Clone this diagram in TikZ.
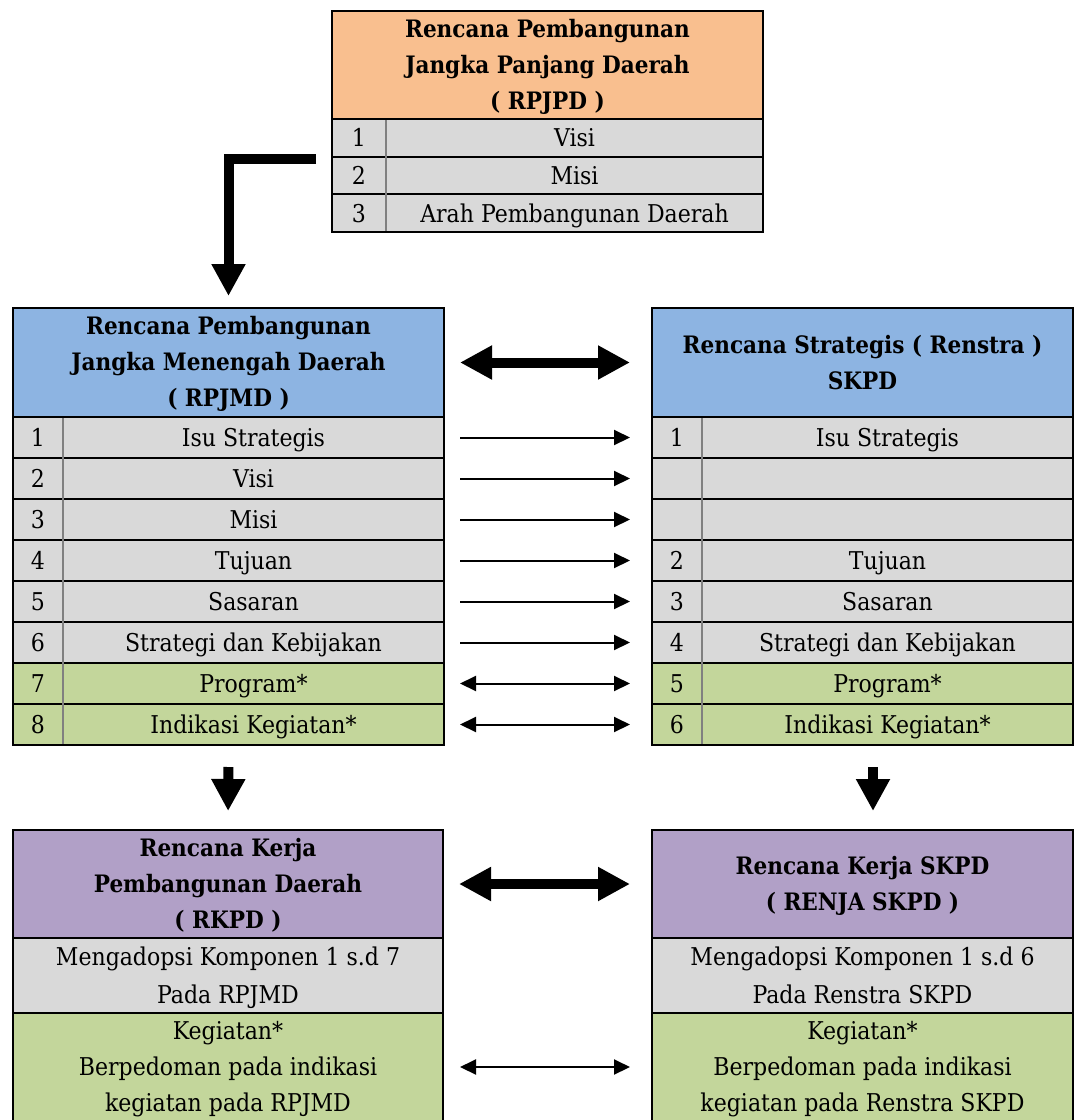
\documentclass[tikz,border=0pt]{standalone}
\usepackage{fontspec}
\setmainfont{DejaVu Serif Condensed}
\usetikzlibrary{arrows.meta}
\definecolor{hdrorange}{HTML}{F9BF8F}
\definecolor{hdrblue}{HTML}{8DB4E2}
\definecolor{cellgray}{HTML}{D9D9D9}
\definecolor{cellgreen}{HTML}{C3D69B}
\definecolor{hdrpurple}{HTML}{B1A0C7}
\definecolor{divgray}{HTML}{808080}
% #1 name prefix, #2 style, #3 x, #4 y of first line centre, #5 line spacing, #6 lines
\newcommand\textlines[6]{%
  \foreach \tl [count=\ii] in {#6}{%
    \pgfmathsetmacro{\yy}{#4+(\ii-1)*#5+8.9}%
    \node[#2, anchor=base] (#1-\ii) at (#3,\yy) {\tl};%
  }%
}
\begin{document}
\begin{tikzpicture}[x=1pt,y=-1pt,
  cellbox/.style={draw=black, line width=2pt, inner sep=0pt, anchor=center},
  hdrtext/.style={font=\fontsize{24}{36}\selectfont\bfseries, inner sep=0pt},
  celltext/.style={font=\fontsize{24.5}{37}\selectfont, inner sep=0pt},
  divider/.style={draw=divgray, line width=1.5pt},
  bigarrow/.style={line width=10pt, -{Triangle[length=32pt,width=32pt]}},
  bigdouble/.style={line width=10pt, {Triangle[length=32pt,width=32pt]}-{Triangle[length=32pt,width=32pt]}},
  thinarrow/.style={line width=2pt, -{Triangle[length=16pt,width=15pt]}},
  thindouble/.style={line width=2pt, {Triangle[length=16pt,width=15pt]}-{Triangle[length=16pt,width=15pt]}},
  gap/.style={shorten <=15pt, shorten >=21pt}]
\useasboundingbox (0,0) rectangle (1074,1120);
\clip (0,0) rectangle (1074,1120);

% ---------- RPJPD (top) ----------
\node[cellbox, fill=hdrorange, minimum width=431pt, minimum height=108pt] (TH) at (547.5,65) {};
\textlines{THt}{hdrtext}{547.5}{29}{36}{Rencana Pembangunan,Jangka Panjang Daerah,( RPJPD )}
\node[cellbox, fill=cellgray, minimum width=431pt, minimum height=37.67pt] (T1) at (547.5,137.83) {};
\node[cellbox, fill=cellgray, minimum width=431pt, minimum height=37.67pt] (T2) at (547.5,175.5) {};
\node[cellbox, fill=cellgray, minimum width=431pt, minimum height=37.67pt] (T3) at (547.5,213.17) {};
\draw[divider] (386,120) -- (386,231);
\textlines{T1n}{celltext}{359}{137.83}{0}{1}
\textlines{T1t}{celltext}{574.5}{137.83}{0}{Visi}
\textlines{T2n}{celltext}{359}{175.5}{0}{2}
\textlines{T2t}{celltext}{574.5}{175.5}{0}{Misi}
\textlines{T3n}{celltext}{359}{213.17}{0}{3}
\textlines{T3t}{celltext}{574.5}{213.17}{0}{Arah Pembangunan Daerah}

% ---------- RPJMD (middle left) ----------
\node[cellbox, fill=hdrblue, minimum width=431pt, minimum height=109pt] (LH) at (228.5,362.5) {};
\textlines{LHt}{hdrtext}{228.5}{326}{36}{Rencana Pembangunan,Jangka Menengah Daerah,( RPJMD )}
% ---------- Renstra (middle right) ----------
\node[cellbox, fill=hdrblue, minimum width=421pt, minimum height=109pt] (RH) at (862.5,362.5) {};
\textlines{RHt}{hdrtext}{862.5}{345}{36}{Rencana Strategis ( Renstra ),SKPD}

\foreach \k/\ln/\lt/\rn/\rt/\col in {
  1/1/Isu Strategis/1/Isu Strategis/cellgray,
  2/2/Visi//{}/cellgray,
  3/3/Misi//{}/cellgray,
  4/4/Tujuan/2/Tujuan/cellgray,
  5/5/Sasaran/3/Sasaran/cellgray,
  6/6/Strategi dan Kebijakan/4/Strategi dan Kebijakan/cellgray,
  7/7/Program*/5/Program*/cellgreen,
  8/8/Indikasi Kegiatan*/6/Indikasi Kegiatan*/cellgreen}{
  \pgfmathsetmacro{\cy}{396.5+41*\k}
  \pgfmathsetmacro{\by}{\cy+8.9}
  \node[cellbox, fill=\col, minimum width=431pt, minimum height=41pt] (L\k) at (228.5,\cy) {};
  \node[cellbox, fill=\col, minimum width=421pt, minimum height=41pt] (R\k) at (862.5,\cy) {};
  \node[celltext, anchor=base] (L\k n) at (38,\by) {\ln};
  \node[celltext, anchor=base] (L\k t) at (253.5,\by) {\lt};
  \node[celltext, anchor=base] (R\k n) at (677,\by) {\rn};
  \node[celltext, anchor=base] (R\k t) at (887.5,\by) {\rt};
}
\draw[divider] (63,418) -- (63,744);
\draw[divider] (702,418) -- (702,744);

% ---------- RKPD (bottom left) ----------
\node[cellbox, fill=hdrpurple, minimum width=430pt, minimum height=108pt] (BLH) at (228,884) {};
\textlines{BLHt}{hdrtext}{228}{848}{36}{Rencana Kerja,Pembangunan Daerah,( RKPD )}
\node[cellbox, fill=cellgray, minimum width=430pt, minimum height=75pt] (BLG) at (228,975.5) {};
\textlines{BLGt}{celltext}{228}{956.5}{38}{Mengadopsi Komponen 1 s.d 7,Pada RPJMD}
\node[cellbox, fill=cellgreen, minimum width=430pt, minimum height=108pt] (BLK) at (228,1067) {};
\textlines{BLKt}{celltext}{228}{1031}{36}{Kegiatan*,Berpedoman pada indikasi,kegiatan pada RPJMD}

% ---------- RENJA SKPD (bottom right) ----------
\node[cellbox, fill=hdrpurple, minimum width=421pt, minimum height=108pt] (BRH) at (862.5,884) {};
\textlines{BRHt}{hdrtext}{862.5}{866}{36}{Rencana Kerja SKPD,( RENJA SKPD )}
\node[cellbox, fill=cellgray, minimum width=421pt, minimum height=75pt] (BRG) at (862.5,975.5) {};
\textlines{BRGt}{celltext}{862.5}{956.5}{38}{Mengadopsi Komponen 1 s.d 6,Pada Renstra SKPD}
\node[cellbox, fill=cellgreen, minimum width=421pt, minimum height=108pt] (BRK) at (862.5,1067) {};
\textlines{BRKt}{celltext}{862.5}{1031}{36}{Kegiatan*,Berpedoman pada indikasi,kegiatan pada Renstra SKPD}

% ---------- connectors ----------
\coordinate (lstart) at ([xshift=-15pt,yshift=-1.5pt]T1.south west);
\draw[bigarrow, line join=miter, shorten >=11pt] (lstart) -| (LH.north);
\draw[bigdouble, gap] (LH.east) -- (RH.west);
\foreach \k in {1,...,6}{
  \draw[thinarrow, gap] (L\k.east) -- (R\k.west);
}
\foreach \k in {7,8}{
  \draw[thindouble, gap] (L\k.east) -- (R\k.west);
}
\draw[bigarrow, shorten <=21pt, shorten >=18pt] (L8.south) -- (BLH.north);
\draw[bigarrow, shorten <=21pt, shorten >=18pt] ([xshift=10.5pt]R8.south) -- ([xshift=10.5pt]BRH.north);
\draw[bigdouble, gap] (BLH.east) -- (BRH.west);
\draw[thindouble, shorten <=16pt, shorten >=21pt] (BLK.east) -- (BRK.west);
\end{tikzpicture}
\end{document}
